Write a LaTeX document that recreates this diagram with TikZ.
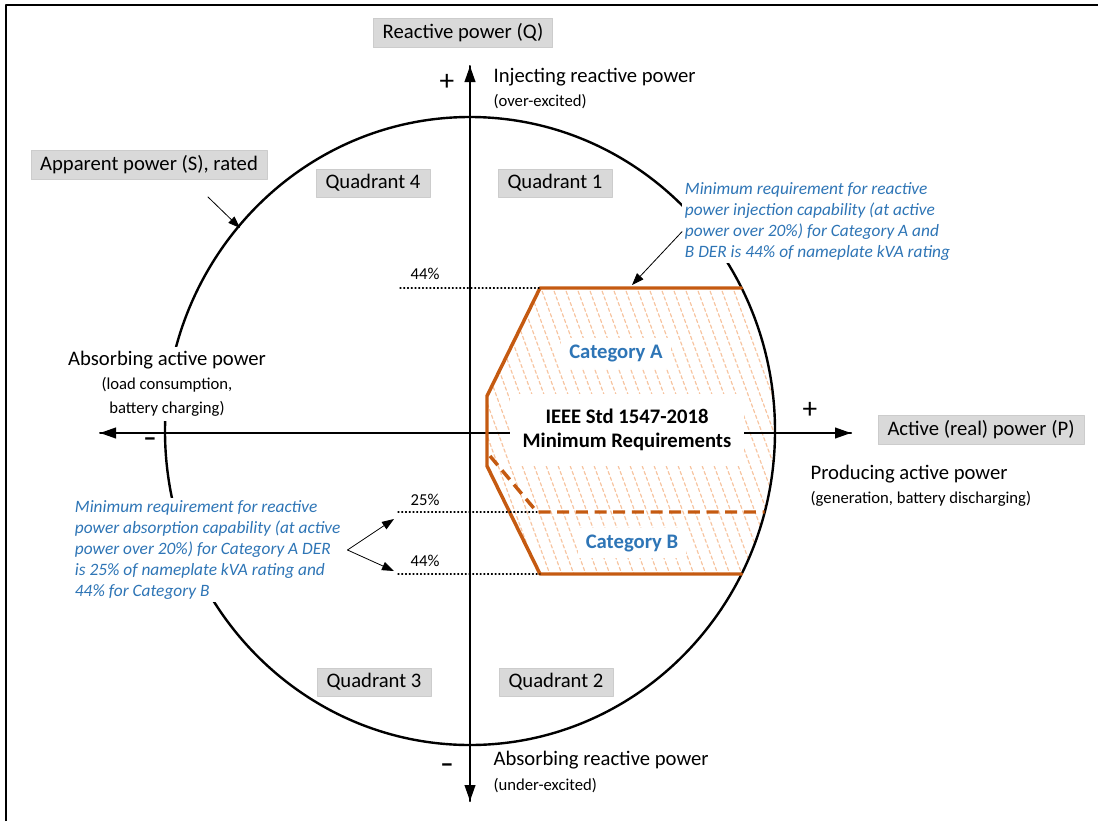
\documentclass[tikz,border=0pt]{standalone}
\usepackage{fontspec}
\setmainfont{Carlito}
\usetikzlibrary{arrows.meta,positioning}
\definecolor{derblue}{RGB}{46,117,182}
\definecolor{derorange}{RGB}{197,90,17}
\definecolor{hatchorange}{RGB}{247,196,160}
\definecolor{boxgray}{RGB}{217,217,217}
\tikzset{
  qbox/.style={draw=black!20, fill=boxgray, inner xsep=7pt, inner ysep=4pt, font=\fontsize{15.5}{18}\selectfont},
  maintext/.style={font=\fontsize{15.5}{18}\selectfont, inner sep=1pt},
  subtext/.style={font=\fontsize{12.5}{15}\selectfont, inner sep=1pt},
  bluenote/.style={fill=white, text=derblue, align=left, inner sep=2pt, font=\fontsize{13}{15.75}\selectfont\itshape},
  catbox/.style={fill=white, text=derblue, font=\fontsize{15.5}{18}\selectfont\bfseries, inner xsep=6pt, inner ysep=5pt},
  axisline/.style={line width=1.5pt, -{Triangle[length=12pt,width=8pt]}},
  notearrow/.style={line width=0.6pt, -{Triangle[length=9pt,width=6.5pt]}},
  signtext/.style={font=\fontsize{22}{22}\selectfont, inner sep=0pt},
  minustext/.style={font=\fontsize{20}{20}\selectfont\bfseries, inner sep=0pt},
  hatchline/.style={draw=hatchorange, line width=0.9pt, dash pattern=on 2.5pt off 2pt},
  guideline/.style={dotted, line width=0.8pt},
  capline/.style={draw=derorange, line width=2.6pt}
}
\begin{document}
\begin{tikzpicture}[x=0.75pt, y=-0.75pt, line cap=round, line join=round]
  \useasboundingbox (0,0) rectangle (1098,821);
  % Frame
  \draw [line width=1.5pt, line cap=butt] (6,821) -- (6,5) -- (1098,5);
  % Capability region hatching
  \begin{scope}
    \clip (470,431) ellipse [x radius=228.75pt, y radius=235.5pt];
    \clip (540,288) -- (487,396) -- (487,466) -- (540,574) -- (800,574) -- (800,288) -- cycle;
    \foreach \k in {0,...,38}
      \draw [hatchline] (370+\k*12, 280) -- ++(110,300);
  \end{scope}
  % Rated apparent power circle
  \draw [line width=1.8pt] (470,431) ellipse [x radius=228.75pt, y radius=235.5pt];
  % Axes
  \coordinate (qtop) at (470,66);
  \coordinate (qbot) at (470,801);
  \coordinate (pleft) at (100,433);
  \coordinate (pright) at (851,433);
  \draw [axisline] (qbot) -- (qtop);
  \draw [axisline] (qtop) -- (qbot);
  \draw [axisline] (pright) -- (pleft);
  \draw [axisline] (pleft) -- (pright);
  % Region outline
  \coordinate (capA1) at (741.5,288);
  \coordinate (capA2) at (540,288);
  \coordinate (capA3) at (487,396);
  \coordinate (capA4) at (487,466);
  \coordinate (capA5) at (540,574);
  \coordinate (capA6) at (741.5,574);
  \coordinate (capB1) at (490,456);
  \coordinate (capB2) at (537,512);
  \coordinate (capB3) at (764.7,512);
  \draw [capline] (capA1) -- (capA2) -- (capA3) -- (capA4) -- (capA5) -- (capA6);
  \draw [capline, dash pattern=on 9pt off 5pt, line cap=butt] (capB1) -- (capB2) -- (capB3);
  % Guide lines
  \draw [guideline] (400,288) -- (capA2);
  \draw [guideline] (398,512) -- (capB2);
  \draw [guideline] (398,574) -- (capA5);
  \node [subtext] (pct-1) at (425,274) {44\%};
  \node [subtext] (pct-2) at (425,500) {25\%};
  \node [subtext] (pct-3) at (425,561) {44\%};
  % Region labels
  \node [catbox] (cat-a) at (616,353) {Category A};
  \node [catbox, text=black, align=center, minimum width=176pt, minimum height=54pt] (ieee) at (627,430) {IEEE Std 1547-2018\\Minimum Requirements};
  \node [catbox] (cat-b) at (632,543) {Category B};
  % Gray labels
  \node [qbox] (qlabel) at (463,33) {Reactive power (Q)};
  \node [qbox] (plabel) at (981,430) {Active (real) power (P)};
  \node [qbox] (slabel) at (149,165) {Apparent power (S), rated};
  \node [qbox] (quad-4) at (373,183) {Quadrant 4};
  \node [qbox] (quad-1) at (555,183) {Quadrant 1};
  \node [qbox] (quad-3) at (374,682) {Quadrant 3};
  \node [qbox] (quad-2) at (556,682) {Quadrant 2};
  % Axis texts
  \node [signtext] (plus-q) at (447,82) {+};
  \node [minustext] (minus-q) at (447,768) {–};
  \node [signtext] (plus-p) at (810,410) {+};
  \node [minustext] (minus-p) at (150,442) {–};
  \node [maintext, anchor=west] (injq) at (492,77) {Injecting reactive power};
  \node [subtext, anchor=west] (injq-sub) at (492,102) {(over-excited)};
  \node [maintext, anchor=west] (absq) at (492,760) {Absorbing reactive power};
  \node [subtext, anchor=west] (absq-sub) at (492,786) {(under-excited)};
  \node [maintext, anchor=west] (prodp) at (809,474) {Producing active power};
  \node [subtext, anchor=west] (prodp-sub) at (809,499) {(generation, battery discharging)};
  \node [maintext, fill=white, align=center, inner sep=3pt] (absp) at (167,384) {Absorbing active power\\ \fontsize{12.5}{17.25}\selectfont (load consumption,\\ \fontsize{12.5}{17.25}\selectfont battery charging)};
  % Notes
  \node [bluenote, anchor=west] (note-inj) at (682,221) {Minimum requirement for reactive\\power injection capability (at active\\power over 20\%) for Category A and\\B DER is 44\% of nameplate kVA rating};
  \node [bluenote, anchor=west] (note-abs) at (72,550) {Minimum requirement for reactive\\power absorption capability (at active\\power over 20\%) for Category A DER\\is 25\% of nameplate kVA rating and\\44\% for Category B};
  % Note arrows
  \coordinate (app-tail) at (208,197);
  \coordinate (app-tip) at (240,228);
  \coordinate (inj-tip) at (632,285);
  \coordinate (abs-tip-1) at (394,519);
  \coordinate (abs-tip-2) at (394,571);
  \draw [notearrow] (app-tail) -- (app-tip);
  \draw [notearrow] ([yshift=-8pt]note-inj.west) -- (inj-tip);
  \foreach \a in {1, 2}
    \draw [notearrow] ([xshift=3pt]note-abs.east) -- (abs-tip-\a);
\end{tikzpicture}
\end{document}
